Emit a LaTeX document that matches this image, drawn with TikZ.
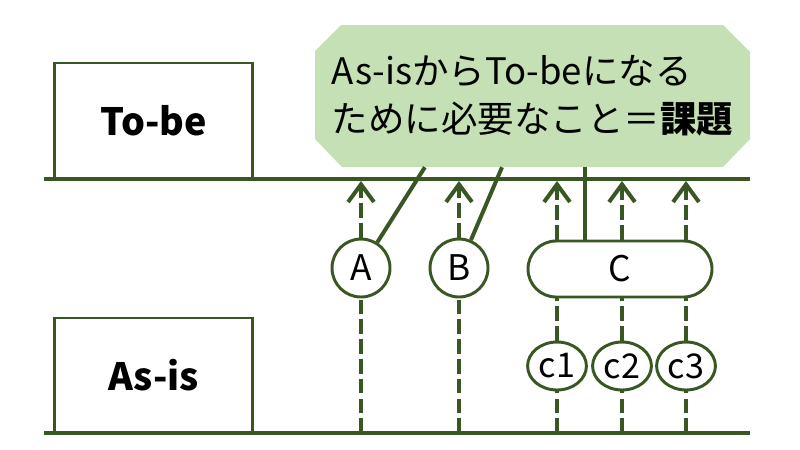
\documentclass[tikz,border=0pt]{standalone}
\usepackage{fontspec}
\setmainfont{Noto Sans CJK JP}
\usetikzlibrary{shapes.geometric,shapes.misc,arrows.meta,calc}
\definecolor{leaf}{HTML}{385723}
\definecolor{pale}{HTML}{C5E0B4}
\tikzstyle{stage}=[draw=leaf, line width=2.5pt, fill=white, minimum width=169pt, font=\fontsize{32}{38}\selectfont\bfseries]
\tikzstyle{factor}=[circle, draw=leaf, line width=2.5pt, fill=white, minimum size=49.3pt, inner sep=0pt, font=\fontsize{30}{36}\selectfont]
\tikzstyle{group}=[rounded rectangle, draw=leaf, line width=2.5pt, fill=white, minimum width=156.4pt, minimum height=47.6pt, inner sep=0pt, font=\fontsize{30}{36}\selectfont]
\tikzstyle{sub}=[ellipse, draw=leaf, line width=2.5pt, fill=white, minimum width=50pt, minimum height=40.8pt, inner sep=0pt, font=\fontsize{29}{34}\selectfont]
\tikzstyle{goal}=[rectangle, minimum width=370pt, minimum height=120.7pt, inner sep=0pt, align=left, font=\fontsize{31}{41}\selectfont]
\tikzstyle{base}=[draw=leaf, line width=3.4pt]
\tikzstyle{link}=[draw=leaf, line width=3.4pt]
\tikzstyle{support}=[draw=leaf, line width=3.4pt, dash pattern=on 12.5pt off 4.3pt]
\tikzstyle{cause}=[support, shorten >=1.7pt, -{Straight Barb[length=15pt,width=22pt]}]

\begin{document}
\begin{tikzpicture}[x=0.85pt,y=-0.85pt]
\useasboundingbox (0,0) rectangle (800,449);
\fill[pale] (315,51) -- (341,25) -- (723,25) -- (750,52) -- (750,139) -- (723,167) -- (342,167) -- (315,139) -- cycle;
\draw (532.5,96) node[goal] (goal) {As-isからTo-beになる\\ために必要なこと＝\textbf{課題}};
\draw (153.5,121) node[stage, minimum height=98.6pt] (tobe) {To-be};
\draw (153.5,375.5) node[stage, minimum height=97.8pt] (asis) {As-is};
\coordinate (tl) at (44,179);
\coordinate (tr) at (750,179);
\coordinate (bl) at (44,433);
\coordinate (br) at (750,433);
\draw[base] (tl) -- (tr);
\draw[base] (bl) -- (br);
\draw (361,268) node[factor] (A) {A};
\draw (459,268) node[factor] (B) {B};
\draw (620,269) node[group] (C) {C};
\draw (557,366) node[sub] (c1) {c1};
\draw (622,366) node[sub] (c2) {c2};
\draw (686,366) node[sub] (c3) {c3};

\draw[support] (A |- bl) -- (A);
\draw[support] (B |- bl) -- (B);
\draw[cause] (A) -- (A |- tl);
\draw[cause] (B) -- (B |- tl);
\draw[link] (A) -- ($(goal.south west)!0.253!(goal.south east)$);
\draw[link] (B) -- ($(goal.south west)!0.43!(goal.south east)$);
\coordinate (gc) at ($(goal.south west)!0.62!(goal.south east)$);
\draw[link] (gc |- C.north) -- (gc);
\foreach \s in {c1,c2,c3} {
  \draw[support] (\s |- bl) -- (\s);
  \draw[support] (\s) -- (\s |- C.south);
  \draw[cause] (\s |- C.north) -- (\s |- tl);
}
\end{tikzpicture}
\end{document}
